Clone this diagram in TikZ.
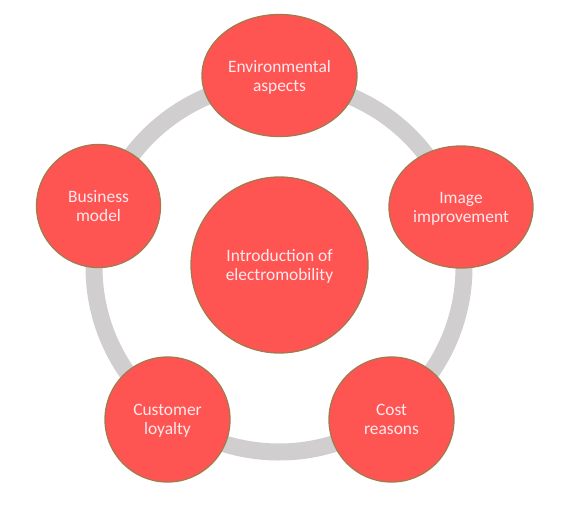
\documentclass[tikz,border=0pt]{standalone}
\usepackage{fontspec}
\setmainfont{Carlito}
\usetikzlibrary{shapes.geometric}
\definecolor{bubble}{RGB}{255,85,82}
\definecolor{bubbleedge}{RGB}{165,120,78}
\definecolor{ringgray}{RGB}{208,206,206}
\definecolor{labeltext}{RGB}{255,232,238}
\tikzset{
  bubble/.style={ellipse, fill=bubble, draw=bubbleedge, line width=1.3pt, inner sep=0pt,
    text=labeltext, align=center, text depth=0pt, font=\fontsize{17.4pt}{19pt}\selectfont},
  ringline/.style={draw=ringgray, line width=17pt}
}
\begin{document}
\begin{tikzpicture}[x=1pt,y=-1pt]
\useasboundingbox (0,0) rectangle (568,506);
\draw[ringline] (279,267) circle[radius=185];
\node[bubble, minimum width=155pt, minimum height=122pt] (env) at (279.5,75.5) {Environmental\\aspects};
\node[bubble, minimum width=144pt, minimum height=122pt] (img) at (461,207) {Image\\improvement};
\node[bubble, minimum width=124pt, minimum height=123pt] (bus) at (98.5,206) {Business\\model};
\node[bubble, minimum width=125pt, minimum height=125pt] (cust) at (167.5,419.5) {Customer\\loyalty};
\node[bubble, minimum width=125pt, minimum height=125pt] (cost) at (391.5,419.5) {Cost\\reasons};
\node[bubble, minimum width=177pt, minimum height=176pt] (intro) at (279.5,265) {Introduction of\\electromobility};
\end{tikzpicture}
\end{document}
